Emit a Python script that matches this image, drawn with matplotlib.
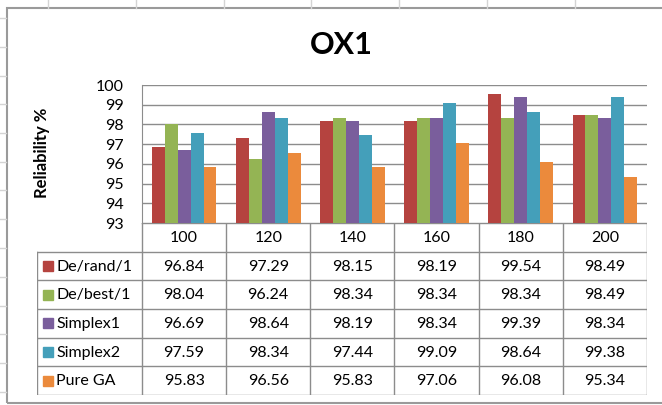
import matplotlib.pyplot as plt
import numpy as np
from matplotlib.patches import Rectangle
from matplotlib.lines import Line2D

plt.rcParams["font.family"] = ["Lato", "DejaVu Sans"]

categories = ["100", "120", "140", "160", "180", "200"]
series = ["De/rand/1", "De/best/1", "Simplex1", "Simplex2", "Pure GA"]
de_rand = [96.84, 97.29, 98.15, 98.19, 99.54, 98.49]
de_best = [98.04, 96.24, 98.34, 98.34, 98.34, 98.49]
simplex1 = [96.69, 98.64, 98.19, 98.34, 99.39, 98.34]
simplex2 = [97.59, 98.34, 97.44, 99.09, 98.64, 99.38]
pure_ga = [95.83, 96.56, 95.83, 97.06, 96.08, 95.34]
colors = ["#B5433F", "#94B454", "#7A5E9C", "#449FBA", "#EB8A3C"]

W, H = 662, 405
fig = plt.figure(figsize=(W / 100, H / 100), dpi=100)


def box(x0, y0, x1, y1):
    # pixel box (top-left origin) -> figure rect
    return [x0 / W, 1 - y1 / H, (x1 - x0) / W, (y1 - y0) / H]


# sheet grid stubs and chart frame
grid = "#d4d4d4"
for x in [48, 136, 224, 311, 399, 487, 575]:
    fig.add_artist(Line2D([x / W, x / W], [1, 1 - 8 / H], color=grid, lw=1))
for y in np.arange(18, 400, 28.75):
    fig.add_artist(Line2D([0, 6 / W], [1 - y / H, 1 - y / H], color=grid, lw=1))
fig.add_artist(Rectangle((7 / W, 1 - 403 / H), 1.0, 395 / H, fill=False,
                         edgecolor="#9a9a9a", lw=1.5, transform=fig.transFigure))

fig.text(341 / W, 1 - 45 / H, "OX1", ha="center", va="center",
         fontsize=22, fontweight="bold")
fig.text(42 / W, 1 - 153 / H, "Reliability %", ha="center", va="center",
         rotation=90, fontsize=12, fontweight="bold")

fs = 11.5

# bars
ax = fig.add_axes(box(142, 85, 647, 223))
values = [de_rand, de_best, simplex1, simplex2, pure_ga]
x = np.arange(len(categories))
bw = 1 / 6.5
for i, (vals, c) in enumerate(zip(values, colors)):
    ax.bar(x + (i - 2) * bw, np.array(vals) - 93, bw, bottom=93, color=c,
           zorder=3)
ax.set_xlim(-0.5, 5.5)
ax.set_ylim(93, 100)
ax.set_yticks(range(93, 101))
ax.set_xticks([])
ax.tick_params(axis="y", length=0, pad=13, labelsize=fs)
ax.grid(axis="y", color="#8c8c8c", lw=1, zorder=0)
for s in ["top", "right", "bottom"]:
    ax.spines[s].set_visible(False)
ax.spines["left"].set_color("#8c8c8c")

# data table under the bars
tx = fig.add_axes(box(37, 223, 647, 395))
left = -0.5 - (142 - 37) / (505 / 6)
tx.set_xlim(left, 5.5)
tx.set_ylim(6, 0)
tx.axis("off")
lc = "#8c8c8c"
tx.plot([-0.5, 5.5], [0, 0], color=lc, lw=1)
for r in range(1, 7):
    tx.plot([left, 5.5], [r, r], color=lc, lw=1)
tx.plot([left, left], [1, 6], color=lc, lw=1)
for k in range(7):
    tx.plot([k - 0.5, k - 0.5], [0, 6], color=lc, lw=1)
for j, cat in enumerate(categories):
    tx.text(j, 0.52, cat, ha="center", va="center", fontsize=fs)
unit = 505 / 6
for i, (name, vals, c) in enumerate(zip(series, values, colors)):
    yc = i + 1.5
    tx.add_patch(Rectangle((left + 6 / unit, yc - 0.18), 10 / unit, 0.36,
                           color=c))
    tx.text(left + 19 / unit, yc + 0.02, name, ha="left", va="center",
            fontsize=fs)
    for j, v in enumerate(vals):
        tx.text(j, yc + 0.02, f"{v:.2f}", ha="center", va="center",
                fontsize=fs)

fig.savefig("out.png", dpi=100)
